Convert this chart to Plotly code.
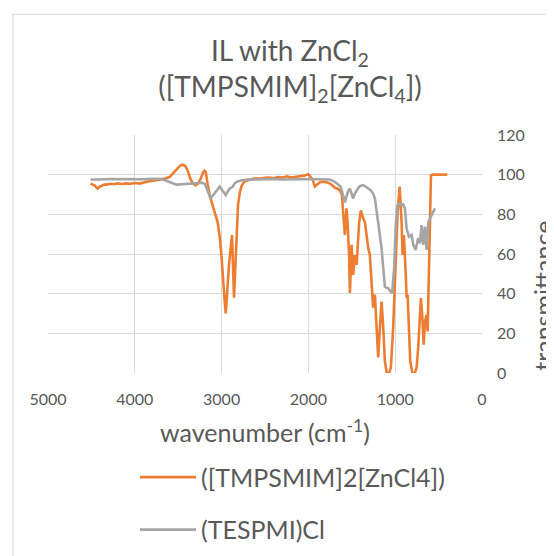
import plotly.graph_objects as go

# ---- data ----
wn_zn = [4510, 4480, 4460, 4440, 4429, 4410, 4380, 4350, 4325, 4280, 4240, 4200, 4150, 4100, 4050, 4000,
         3945, 3900, 3850, 3800, 3750, 3700, 3656, 3600, 3560, 3520, 3480, 3449, 3420, 3390, 3360, 3330,
         3299, 3270, 3240, 3210, 3195, 3183, 3160, 3137, 3100, 3080, 3045, 3020, 3002, 2976, 2953, 2940,
         2915, 2880, 2857, 2840, 2829, 2811, 2790, 2772, 2740, 2695, 2650, 2600, 2550, 2500, 2450, 2400,
         2350, 2300, 2250, 2200, 2150, 2100, 2050, 2000, 1984, 1950, 1926, 1900, 1868, 1830, 1788, 1750,
         1720, 1696, 1660, 1638, 1615, 1600, 1580, 1561, 1549, 1531, 1522, 1503, 1484, 1465, 1445, 1415,
         1396, 1369, 1349, 1330, 1311, 1292, 1272, 1254, 1234, 1215, 1196, 1176, 1157, 1138, 1119, 1099,
         1081, 1065, 1050, 1023, 995, 972, 949, 926, 915, 900, 880, 868, 857, 842, 827, 804, 790, 773,
         753, 735, 715, 704, 689, 672, 657, 638, 626, 611, 600, 588, 560, 500, 450, 400]
t_zn = [95.5, 95.0, 94.5, 93.5, 93.0, 93.8, 94.5, 95.0, 95.0, 95.4, 95.2, 95.6, 95.3, 95.6, 95.4, 95.8,
        95.5, 96.2, 96.6, 96.8, 97.2, 97.5, 98.0, 98.8, 100.5, 102.5, 104.5, 105.0, 104.5, 102, 98, 95.5,
        94.7, 95.5, 98, 101.5, 102, 101.5, 95, 89.7, 84, 81, 76, 68, 59.5, 43, 30, 38,
        54.5, 69.6, 38, 55, 68, 84.7, 91, 94, 96.5, 97.2, 97.8, 98.2, 98.0, 98.4, 98.6, 98.2,
        98.8, 98.5, 99.2, 98.6, 98.9, 99.0, 99.5, 100.2, 99.5, 97.5, 94, 95, 96.2, 96.5, 96.2, 95.5,
        94.5, 93.5, 92.8, 92, 90, 83, 69.6, 83, 76, 59.5, 40.4, 64.6, 49.5, 59.5, 54.5, 76,
        82, 78, 76, 69.6, 63, 59.5, 48, 33, 39.5, 23, 7.8, 23, 36, 23, 6, 0.5,
        0, 0.5, 3, 23, 59.5, 81, 94, 76, 59.5, 69.6, 51, 37.8, 39.5, 19.3, 6, 0.5, 0, 0,
        2.8, 12.8, 29.4, 37.8, 29.4, 14.3, 26, 29.4, 21, 52.9, 84.7, 99.7, 100, 100, 100, 100]

wn_cl = [4510, 4450, 4400, 4300, 4200, 4100, 4000, 3900, 3800, 3700, 3650, 3600, 3550, 3518, 3450, 3368,
         3300, 3218, 3190, 3172, 3150, 3126, 3100, 3080, 3050, 3022, 2990, 2953, 2930, 2907, 2872, 2850,
         2826, 2768, 2700, 2641, 2500, 2400, 2300, 2200, 2100, 2000, 1900, 1800, 1753, 1700, 1657, 1630,
         1615, 1595, 1580, 1561, 1540, 1522, 1500, 1484, 1470, 1453, 1430, 1407, 1369, 1340, 1311, 1280,
         1254, 1234, 1215, 1196, 1176, 1157, 1138, 1119, 1100, 1081, 1060, 1035, 1012, 992, 972, 950,
         934, 910, 888, 869, 842, 811, 792, 765, 735, 715, 696, 677, 657, 638, 619, 592, 562, 542]
t_cl = [97.6, 97.8, 97.6, 97.8, 97.7, 97.9, 97.8, 97.7, 97.9, 97.8, 97.2, 96.2, 95.4, 95.0, 95.2, 95.6,
        95.8, 95.9, 95.2, 93.2, 90, 88, 89.5, 90.5, 92.5, 93.9, 92, 89.7, 91.5, 93, 93.9, 95.5,
        96.4, 97.2, 97.5, 97.6, 97.7, 97.8, 97.6, 97.8, 97.7, 97.8, 97.6, 97.7, 97.6, 96.5, 94.7, 94,
        92, 88, 86, 89, 92, 93, 90, 88, 90, 91.4, 93, 94.2, 94.7, 94, 93, 92,
        90.5, 88, 82, 76, 70, 63, 53, 43.6, 43, 42.8, 41.5, 40.3, 52.9, 76, 84.7, 85.5,
        85, 85, 83, 73, 68.7, 69.6, 64.6, 62, 68, 65.4, 74.6, 64.6, 73.8, 62, 76, 78.8, 81.3, 83]

series_names = ["([TMPSMIM]2[ZnCl4])", "(TESPMI)Cl"]
series_colors = ["#ED7D31", "#A5A5A5"]
x_ticks = [5000, 4000, 3000, 2000, 1000, 0]
y_ticks = [0, 20, 40, 60, 80, 100, 120]

FONT = "Lato, 'Open Sans', sans-serif"
TXT = "#595959"
GRID = "#D9D9D9"

fig = go.Figure()
fig.add_trace(go.Scatter(x=wn_zn, y=t_zn, mode="lines", name=series_names[0],
                         line=dict(color=series_colors[0], width=2.6), legendgroup="a"))
fig.add_trace(go.Scatter(x=wn_cl, y=t_cl, mode="lines", name=series_names[1],
                         line=dict(color=series_colors[1], width=2.6), legendgroup="b"))

# the page has an 8px body margin, so the figure is drawn 8px smaller and all
# positions below are figure pixels (page pixels minus 8)
W, H = 546, 548
L, R, T, B = 40, 72, 127, 182.5
pw, ph = W - L - R, H - T - B

def px2x(p):
    return (p - L) / pw

def py2y(p):
    return (H - B - p) / ph

fig.update_layout(
    width=W, height=H,
    margin=dict(l=L, r=R, t=T, b=B, autoexpand=False),
    paper_bgcolor="white", plot_bgcolor="white",
    font=dict(family=FONT, color=TXT),
    title=dict(text="IL with ZnCl<sub>2</sub><br>([TMPSMIM]<sub>2</sub>[ZnCl<sub>4</sub>])",
               x=282 / W, xanchor="center", xref="container",
               y=1 - 53 / H, yanchor="top", yref="container",
               font=dict(size=28, color=TXT, family=FONT)),
    xaxis=dict(range=[5000, 0], tickvals=x_ticks, showgrid=True, gridcolor=GRID, gridwidth=1,
               zeroline=False, showline=False, ticks="", tickfont=dict(size=16, color=TXT),
               ticklabelstandoff=15,
               title=dict(text="wavenumber (cm<sup>-1</sup>)", font=dict(size=25, color=TXT), standoff=17)),
    yaxis=dict(range=[0, 120], tickvals=y_ticks, side="right", showgrid=True, gridcolor=GRID, gridwidth=1,
               zeroline=False, showline=False, ticks="", tickfont=dict(size=16, color=TXT),
               ticklabelstandoff=14),
    showlegend=True,
    legend=dict(orientation="v", x=px2x(127), xanchor="left", y=py2y(447), yanchor="top",
                font=dict(size=25, color=TXT), tracegroupgap=17, itemwidth=56,
                bgcolor="rgba(0,0,0,0)"),
    annotations=[dict(text="transmittance", textangle=-90, xref="paper", yref="paper",
                      x=px2x(535), y=py2y(288), xanchor="center", yanchor="middle",
                      showarrow=False, font=dict(size=25, color=TXT, family=FONT))],
    shapes=[dict(type="rect", xref="paper", yref="paper",
                 x0=px2x(5), x1=px2x(600), y0=py2y(6), y1=py2y(620),
                 line=dict(color=GRID, width=1.2), fillcolor="rgba(0,0,0,0)", layer="below")],
)

fig.write_html("out.html")
